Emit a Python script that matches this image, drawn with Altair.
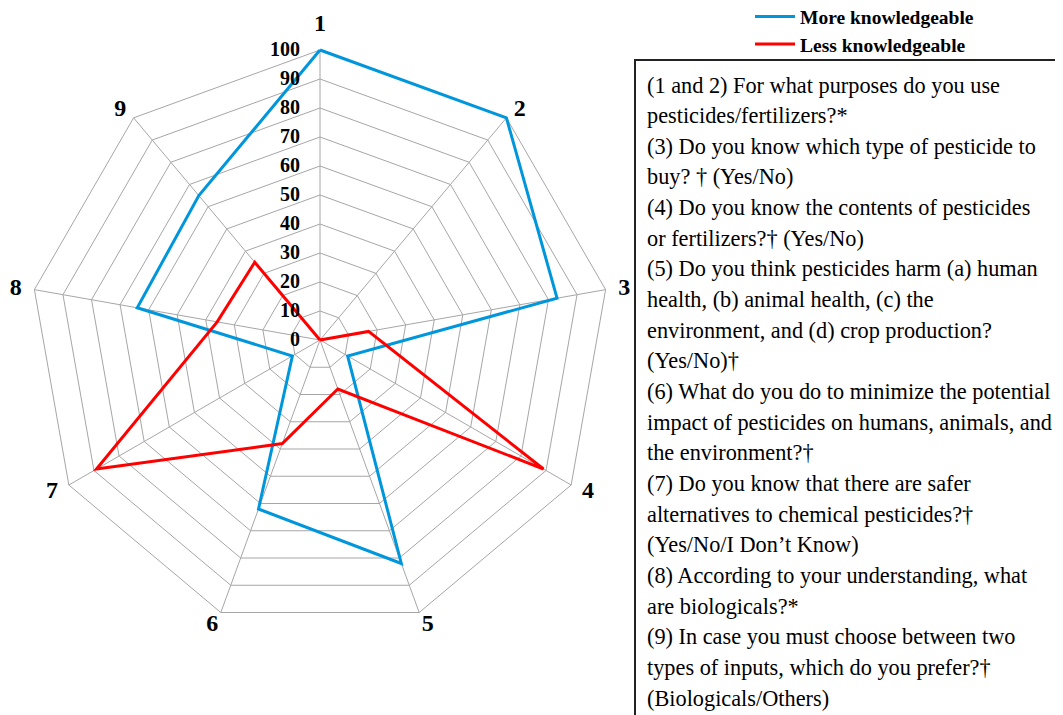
import altair as alt
import numpy as np
import pandas as pd

# ---------------- data ----------------
axis_labels = ["1", "2", "3", "4", "5", "6", "7", "8", "9"]
more_knowledgeable = [100, 100, 83, 11, 82, 62, 11, 64, 65]
less_knowledgeable = [0, 0, 17, 89, 18, 38, 89, 36, 35]
series_names = ["More knowledgeable", "Less knowledgeable"]
series_colors = ["#0096DB", "#FF0000"]
grid_levels = [10, 20, 30, 40, 50, 60, 70, 80, 90, 100]
tick_values = [0, 10, 20, 30, 40, 50, 60, 70, 80, 90, 100]
tick_labels = ["0", "10", "20", "30", "40", "50", "60", "70", "80", "90", "100"]
question_lines = [
    "(1 and 2) For what purposes do you use",
    "pesticides/fertilizers?*",
    "(3) Do you know which type of pesticide to",
    "buy? \u2020 (Yes/No)",
    "(4) Do you know the contents of pesticides",
    "or fertilizers?\u2020 (Yes/No)",
    "(5) Do you think pesticides harm (a) human",
    "health, (b) animal health, (c) the",
    "environment, and (d) crop production?",
    "(Yes/No)\u2020",
    "(6) What do you do to minimize the potential",
    "impact of pesticides on humans, animals, and",
    "the environment?\u2020",
    "(7) Do you know that there are safer",
    "alternatives to chemical pesticides?\u2020",
    "(Yes/No/I Don\u2019t Know)",
    "(8) According to your understanding, what",
    "are biologicals?*",
    "(9) In case you must choose between two",
    "types of inputs, which do you prefer?\u2020",
    "(Biologicals/Others)",
]

# ---------------- layout ----------------
W, H = 1047, 707
CX, CY = 312, 332          # radar centre in plot pixels
PX = 2.9                   # pixels per value unit
xdom = [-CX / PX, (W - CX) / PX]
ydom = [-(H - CY) / PX, CY / PX]
FONT = "'Liberation Serif', 'Times New Roman', serif"
n = len(axis_labels)
ang = np.arange(n) * 2 * np.pi / n

xs = alt.Scale(domain=xdom, nice=False, zero=False)
ys = alt.Scale(domain=ydom, nice=False, zero=False)


def X(f):
    return alt.X(f"{f}:Q", scale=xs, axis=None)


def Y(f):
    return alt.Y(f"{f}:Q", scale=ys, axis=None)


# grid polygons
grid_rows = []
for lv in grid_levels:
    for k in range(n + 1):
        a = ang[k % n]
        grid_rows.append({"level": lv, "k": k, "x": lv * np.sin(a), "y": lv * np.cos(a)})
grid_df = pd.DataFrame(grid_rows)

spoke_df = pd.DataFrame({
    "x0": [0.0] * n, "y0": [0.0] * n,
    "x1": [100 * np.sin(a) for a in ang],
    "y1": [100 * np.cos(a) for a in ang],
})

grid = alt.Chart(grid_df).mark_line(color="#A6A6A6", strokeWidth=1).encode(
    x=X("x"), y=Y("y"), detail="level:N", order="k:Q"
)
spokes = alt.Chart(spoke_df).mark_rule(color="#A6A6A6", strokeWidth=1).encode(
    x=X("x0"), y=Y("y0"), x2="x1:Q", y2="y1:Q"
)


def series_df(name, vals):
    rows = []
    for k in range(n + 1):
        v = vals[k % n]
        a = ang[k % n]
        rows.append({"series": name, "k": k, "value": v,
                     "x": v * np.sin(a), "y": v * np.cos(a)})
    return pd.DataFrame(rows)


color_scale = alt.Scale(domain=series_names, range=series_colors)
lines = []
for name, vals in zip(series_names, [more_knowledgeable, less_knowledgeable]):
    lines.append(
        alt.Chart(series_df(name, vals)).mark_line(strokeWidth=3, strokeJoin="miter").encode(
            x=X("x"), y=Y("y"), order="k:Q",
            color=alt.Color("series:N", scale=color_scale, legend=None),
        )
    )

tick_df = pd.DataFrame({"x": [0.0] * len(tick_values), "y": tick_values, "label": tick_labels})
ticks = alt.Chart(tick_df).mark_text(
    align="right", baseline="middle", dx=-20, font=FONT, fontWeight="bold",
    fontSize=20, color="#000000"
).encode(x=X("x"), y=Y("y"), text="label:N")

# category labels: placed just outside each outer vertex (pixel offsets -> value units)
lab_x, lab_y = [], []
for a in ang:
    s, c = np.sin(a), np.cos(a)
    ox = 16 * s + 3 * np.sign(round(s, 6))
    oy = 12 * c + (14 * c ** 20 if c > 0 else 0)   # upward pixels
    lab_x.append(100 * s + ox / PX)
    lab_y.append(100 * c + oy / PX)
lab_df = pd.DataFrame({"label": axis_labels, "x": lab_x, "y": lab_y})
axis_text = alt.Chart(lab_df).mark_text(
    align="center", baseline="middle", font=FONT, fontWeight="bold",
    fontSize=24, color="#000000"
).encode(x=X("x"), y=Y("y"), text="label:N")

one = pd.DataFrame({"a": [0]})

# legend (manual)
legend_layers = []
legend_y = [8.5, 36]
for name, col, ly in zip(series_names, series_colors, legend_y):
    legend_layers.append(
        alt.Chart(one).mark_rule(color=col, strokeWidth=3).encode(
            x=alt.value(747), x2=alt.value(787), y=alt.value(ly)
        )
    )
    legend_layers.append(
        alt.Chart(one).mark_text(
            align="left", baseline="middle", font=FONT, fontWeight="bold",
            fontSize=19.5, color="#000000"
        ).encode(x=alt.value(792), y=alt.value(ly + 1.5), text=alt.value(name))
    )

# question box
box = alt.Chart(one).mark_rect(filled=False, stroke="#222222", strokeWidth=2).encode(
    x=alt.value(627), x2=alt.value(1200), y=alt.value(52), y2=alt.value(900)
)
qtext = alt.Chart(one).mark_text(
    align="left", baseline="alphabetic", font=FONT, fontSize=22.3,
    lineBreak="\n", lineHeight=30.65, color="#000000"
).encode(x=alt.value(639), y=alt.value(84.5), text=alt.value("\n".join(question_lines)))

chart = alt.layer(
    grid, spokes, *lines, ticks, axis_text, *legend_layers, box, qtext
).properties(
    width=W, height=H, padding=0,
    autosize=alt.AutoSizeParams(type="none"),
    background="white",
).configure_view(stroke=None)

chart.save("out.html", embed_options={"renderer": "svg", "actions": False})
